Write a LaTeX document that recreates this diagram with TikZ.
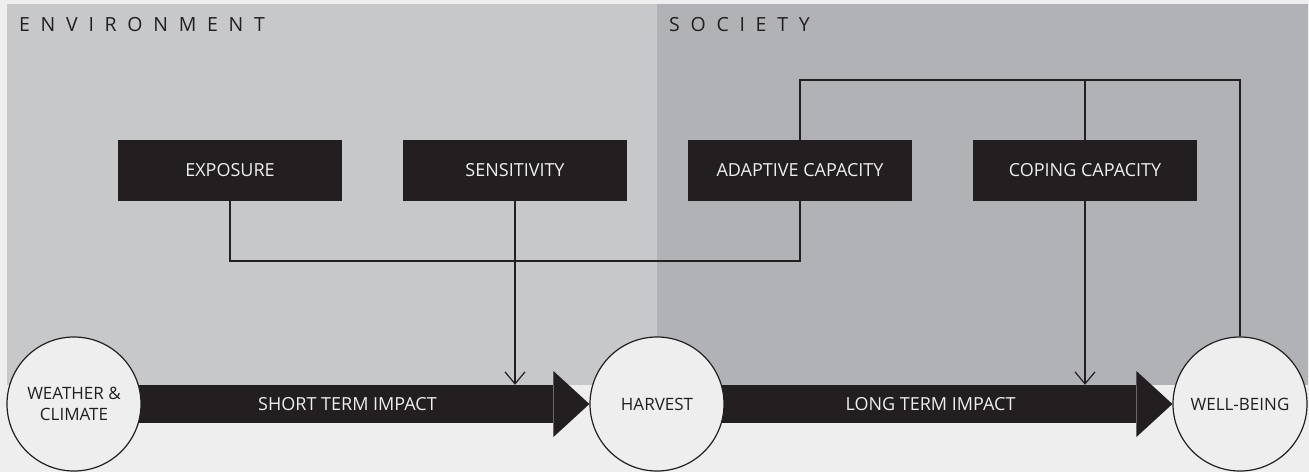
\documentclass[tikz,border=0pt]{standalone}
\usepackage{fontspec}
\setmainfont{Open Sans}
\usetikzlibrary{arrows.meta,backgrounds}
\definecolor{paper}{HTML}{EEEEEE}
\definecolor{envgrey}{HTML}{C7C8CA}
\definecolor{socgrey}{HTML}{B1B2B6}
\definecolor{ink}{HTML}{231F20}
\tikzset{
  capbox/.style={fill=ink, text=paper, minimum width=224pt, minimum height=61pt, inner sep=0pt, font=\fontsize{18}{20}\selectfont},
  stage/.style={circle, draw=ink, line width=1.2pt, fill=paper, text=ink, minimum size=134pt, inner sep=0pt, align=center, font=\fontsize{17}{21}\selectfont},
  link/.style={draw=ink, line width=1.2pt},
  push/.style={link, -{Straight Barb[length=12pt,width=20pt]}},
  fat/.style={draw=ink, line width=38pt, -{Triangle[length=36pt,width=66pt,line width=0pt]}},
  impact/.style={text=paper, minimum height=38pt, inner sep=0pt, font=\fontsize{18}{20}\selectfont},
  region/.style={text=ink, inner sep=0pt, anchor=west, font=\fontsize{19.5}{20}\selectfont\addfontfeature{LetterSpace=55}}
}
\begin{document}
\begin{tikzpicture}[x=1pt,y=-1pt]
\useasboundingbox (0,0) rectangle (1309,472);
% stages along the bottom
\node[stage] (weather) at (74,404) {WEATHER \&\\CLIMATE};
\node[stage] (harvest) at (657,404) {HARVEST};
\node[stage] (wellbeing) at (1240,404) {WELL-BEING};
% factors
\node[capbox] (exposure) at (230,170.5) {EXPOSURE};
\node[capbox] (sensitivity) at (515,170.5) {SENSITIVITY};
\node[capbox] (adaptive) at (800,170.5) {ADAPTIVE CAPACITY};
\node[capbox] (coping) at (1085,170.5) {COPING CAPACITY};
% region titles
\node[region] (envtitle) at (19,24.5) {ENVIRONMENT};
\node[region] (soctitle) at (669,24.5) {SOCIETY};
% impact labels
\path (weather.east) -- ([xshift=-36pt]harvest.west) node[midway,impact] (short) {SHORT TERM IMPACT};
\path (harvest.east) -- ([xshift=-36pt]wellbeing.west) node[midway,impact] (long) {LONG TERM IMPACT};
\begin{scope}[on background layer]
\fill[paper] (0,0) rectangle (1309,472);
\fill[envgrey] (7,4) rectangle (657,385);
\fill[socgrey] (657,4) rectangle (1308,385);
\draw[fat] (weather.center) -- (harvest.west);
\draw[fat] (harvest.center) -- (wellbeing.west);
\end{scope}
% connectors
\coordinate (ridge) at (0,80);
\coordinate (trough) at (0,261);
\draw[link] (exposure.south) |- (adaptive.south |- trough) -- (adaptive.south);
\draw[link] (adaptive.north) |- (wellbeing.north |- ridge) -- (wellbeing.north);
\draw[link] (coping.north) -- (coping.north |- ridge);
\draw[push] (sensitivity.south) -- (sensitivity.south |- short.north);
\draw[push] (coping.south) -- (coping.south |- long.north);
\end{tikzpicture}
\end{document}
